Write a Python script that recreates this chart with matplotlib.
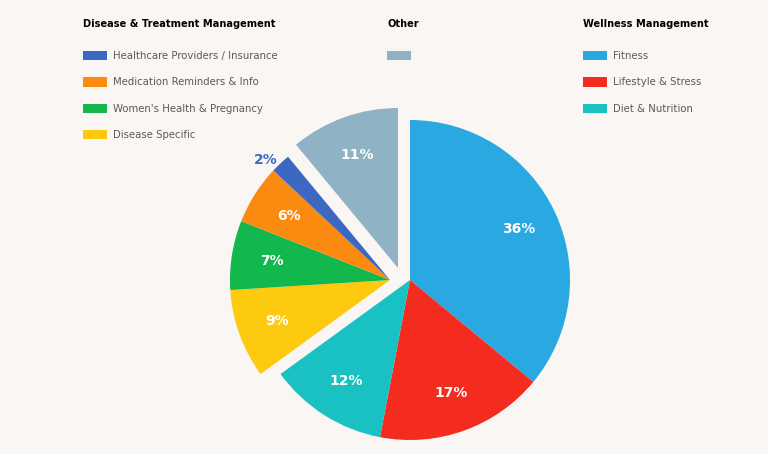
import matplotlib.pyplot as plt
import numpy as np

# shares (percent) per segment, grouped the way the pie is split
wellness_labels = ["Fitness", "Lifestyle & Stress", "Diet & Nutrition"]
wellness_shares = [36, 17, 12]
wellness_colors = ["#29a8e2", "#f42b1f", "#19c1c2"]

disease_labels = [
    "Disease Specific",
    "Women's Health & Pregnancy",
    "Medication Reminders & Info",
    "Healthcare Providers / Insurance",
]
disease_shares = [9, 7, 6, 2]
disease_colors = ["#fdca10", "#12b84b", "#fb8a10", "#3d68c2"]

other_labels = ["Other"]
other_shares = [11]
other_colors = ["#8fb2c5"]

BG = "#f9f6f4"
W, H = 768, 454
RADIUS = 160
CENTER = np.array([410.0, H - 280.0])

plt.rcParams["font.family"] = ["DejaVu Sans"]

fig = plt.figure(figsize=(W / 100, H / 100), dpi=100, facecolor=BG)
ax = fig.add_axes([0, 0, 1, 1])
ax.set_facecolor(BG)


def draw_group(shares, colors, start, shift):
    center = CENTER + np.array(shift)
    wedges, _, autotexts = ax.pie(
        np.array(shares) / 100.0,
        colors=colors,
        startangle=start,
        counterclock=False,
        normalize=False,
        radius=RADIUS,
        center=tuple(center),
        autopct=lambda p: f"{p:.0f}%",
        pctdistance=0.75,
        wedgeprops={"linewidth": 0},
        textprops={"color": "white", "fontsize": 10, "fontweight": "bold"},
    )
    # tiny slices get their label outside, in the slice colour
    for w, t, s in zip(wedges, autotexts, shares):
        if s < 3:
            mid = np.deg2rad((w.theta1 + w.theta2) / 2)
            pos = center + 1.03 * RADIUS * np.array([np.cos(mid), np.sin(mid)])
            t.set_position(pos)
            t.set_color(w.get_facecolor())
            t.set_ha("right")
    return wedges


total_w = sum(wellness_shares)
total_d = sum(disease_shares)
w_wedges = draw_group(wellness_shares, wellness_colors, 90, (0, 0))
d_wedges = draw_group(disease_shares, disease_colors, 90 - 3.6 * total_w, (-20, 0))
o_wedges = draw_group(other_shares, other_colors, 90 - 3.6 * (total_w + total_d), (-12, 12))

ax.set_xlim(0, W)
ax.set_ylim(0, H)
ax.set_axis_off()


def add_legend(handles, labels, title, x):
    leg = fig.legend(
        handles,
        labels,
        title=title,
        loc="upper left",
        bbox_to_anchor=(x / W, 1 - 19 / H),
        frameon=False,
        alignment="left",
        fontsize=7.3,
        title_fontproperties={"weight": "bold", "size": 7.1},
        handlelength=2.4,
        handleheight=1.0,
        handletextpad=0.6,
        labelspacing=1.6,
        borderpad=0,
        borderaxespad=0,
    )
    for t in leg.get_texts():
        t.set_color("#5a5a5a")
    leg._legend_box.sep = 16
    return leg


# legend order differs from the pie order
d_order = [3, 2, 1, 0]
add_legend([d_wedges[i] for i in d_order], [disease_labels[i] for i in d_order],
           "Disease & Treatment Management", 83)
add_legend(o_wedges, [""], "Other", 387)
add_legend(w_wedges, wellness_labels, "Wellness Management", 583)

fig.savefig("out.png", dpi=100, facecolor=BG)
